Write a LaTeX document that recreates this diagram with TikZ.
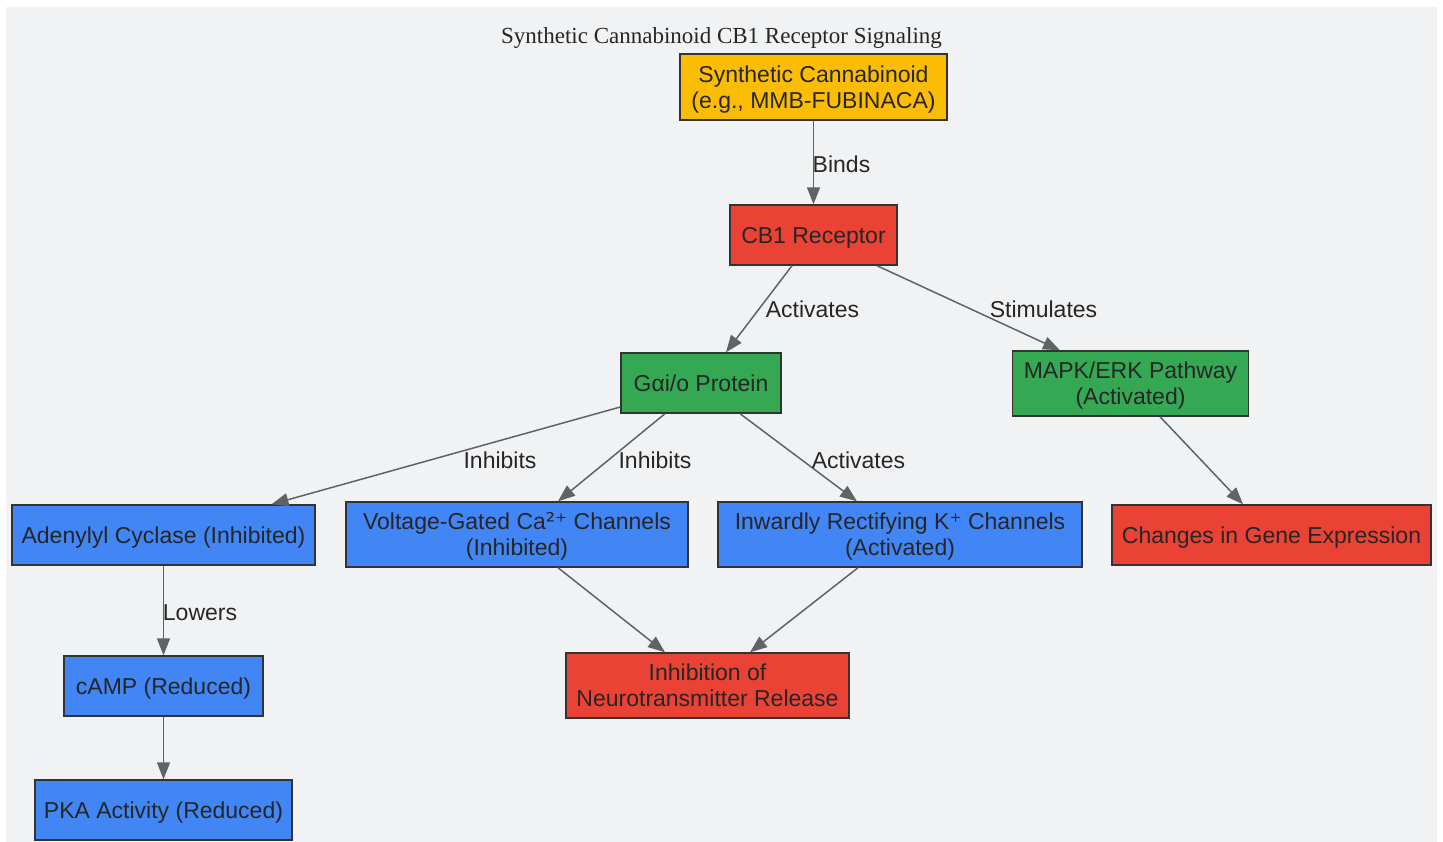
\documentclass[tikz,border=0pt]{standalone}
\usepackage{fontspec}
\setmainfont{Liberation Sans}
\newfontfamily\titlefont{Liberation Serif}
\newfontfamily\symfont{DejaVu Sans}
\usetikzlibrary{arrows.meta}
\definecolor{bgc}{HTML}{F1F2F4}
\definecolor{ylw}{HTML}{FBBC04}
\definecolor{rdc}{HTML}{EA4335}
\definecolor{grn}{HTML}{34A853}
\definecolor{blu}{HTML}{4285F4}
\definecolor{txt}{HTML}{262626}
\definecolor{edg}{HTML}{5F6368}
\definecolor{brd}{HTML}{333333}
\tikzset{
  box/.style={rectangle, draw=brd, line width=1.4pt, inner sep=0pt, align=center,
    text=txt, font=\fontsize{23}{26}\selectfont, text height=16.5pt, text depth=0pt},
  twoline/.style={text height=42.5pt, text depth=0pt},
  lbl/.style={inner sep=0pt, text=txt, font=\fontsize{23}{26}\selectfont,
    text height=16.5pt, text depth=0pt},
  arr/.style={draw=edg, line width=1.5pt, -{Triangle[length=17pt,width=13pt]}, fill=edg}
}
\begin{document}
\begin{tikzpicture}[x=1pt,y=-1pt]
\useasboundingbox (0,0) rectangle (1443,842);
\fill[bgc] (6,7) rectangle (1437,842);
\node[text=txt, font=\titlefont\fontsize{23}{26}\selectfont, inner sep=0pt, text height=16pt, text depth=0pt] (title) at (721.5,35.5) {Synthetic Cannabinoid CB1 Receptor Signaling};

\node[box, twoline, fill=ylw, minimum width=267pt, minimum height=66pt] (sc) at (813.5,87) {Synthetic Cannabinoid\\(e.g., MMB-FUBINACA)};
\node[box, fill=rdc, minimum width=167pt, minimum height=60pt] (cb1) at (813.5,235) {CB1 Receptor};
\node[box, fill=grn, minimum width=160pt, minimum height=60pt] (gio) at (701,383) {Gαi/o Protein};
\node[box, twoline, fill=grn, minimum width=236pt, minimum height=65pt] (mapk) at (1130.5,383.5) {MAPK/ERK Pathway\\(Activated)};
\node[box, fill=blu, minimum width=303pt, minimum height=60pt] (ac) at (163.5,535) {Adenylyl Cyclase (Inhibited)};
\node[box, twoline, fill=blu, minimum width=342pt, minimum height=65pt] (vgcc) at (517,534.5) {Voltage-Gated Ca{\symfont ²⁺} Channels\\(Inhibited)};
\node[box, twoline, fill=blu, minimum width=364pt, minimum height=65pt] (kir) at (900,534.5) {Inwardly Rectifying K{\symfont ⁺} Channels\\(Activated)};
\node[box, fill=rdc, minimum width=319pt, minimum height=60pt] (gene) at (1271.5,535) {Changes in Gene Expression};
\node[box, twoline, fill=rdc, minimum width=283pt, minimum height=65pt] (inhib) at (707.5,685.5) {Inhibition of\\Neurotransmitter Release};
\node[box, fill=blu, minimum width=199pt, minimum height=60pt] (camp) at (163.5,686) {cAMP (Reduced)};
\node[box, fill=blu, minimum width=257pt, minimum height=60pt] (pka) at (163.5,810) {PKA Activity (Reduced)};

\draw[arr] (sc.south) -- (cb1.north);
\draw[arr] ([xshift=-21.5pt]cb1.south) -- ([xshift=25pt]gio.north);
\draw[arr] ([xshift=63.5pt]cb1.south) -- ([xshift=-70.5pt]mapk.north);
\draw[arr] ([yshift=-24pt]gio.west) -- ([xshift=108pt]ac.north);
\draw[arr] ([xshift=-36pt]gio.south) -- ([xshift=41pt]vgcc.north);
\draw[arr] ([xshift=39pt]gio.south) -- ([xshift=-43pt]kir.north);
\draw[arr] ([xshift=29.5pt]mapk.south) -- ([xshift=-28.5pt]gene.north);
\draw[arr] (ac.south) -- (camp.north);
\draw[arr] (camp.south) -- (pka.north);
\draw[arr] ([xshift=41pt]vgcc.south) -- ([xshift=-42.5pt]inhib.north);
\draw[arr] ([xshift=-42pt]kir.south) -- ([xshift=42.5pt]inhib.north);

\node[lbl] (lbinds) at (841.5,164.5) {Binds};
\node[lbl] (lact1) at (812.5,309) {Activates};
\node[lbl] (lstim) at (1043.5,309) {Stimulates};
\node[lbl] (linh1) at (500,460) {Inhibits};
\node[lbl] (linh2) at (655,460) {Inhibits};
\node[lbl] (lact2) at (858.5,460) {Activates};
\node[lbl] (llow) at (200,612) {Lowers};
\end{tikzpicture}
\end{document}
